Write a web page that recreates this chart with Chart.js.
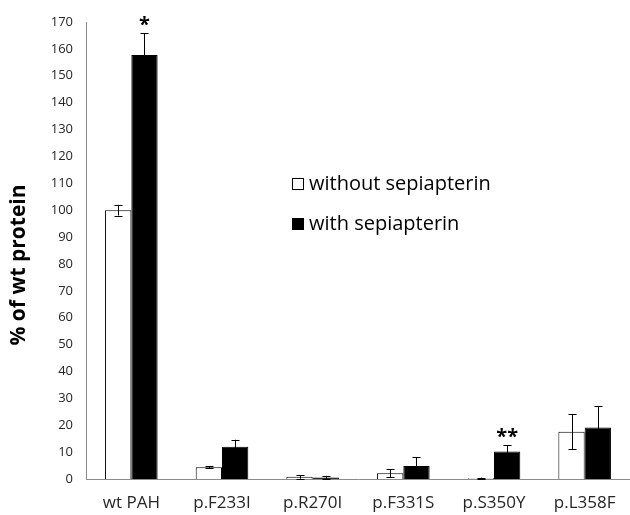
<!DOCTYPE html>
<html>
<head>
<meta charset="utf-8">
<script src="https://cdn.jsdelivr.net/npm/chart.js@4/dist/chart.umd.min.js"></script>
<style>
  html, body { margin: 0; padding: 0; background: #fff; }
  #wrap { width: 630px; height: 515px; }
</style>
</head>
<body>
<div id="wrap"><canvas id="chart" width="630" height="515"></canvas></div>
<script>
// --- data ---
const categories = ['wt PAH', 'p.F233I', 'p.R270I', 'p.F331S', 'p.S350Y', 'p.L358F'];
const withoutSep = [100, 4.4, 0.8, 2.1, 0.3, 17.6];
const withoutErr = [2, 0.3, 0.7, 1.5, 0.2, 6.5];
const withSep = [157.7, 12, 0.6, 4.8, 10.2, 19.2];
const withErr = [8.2, 2.6, 0.6, 3.3, 2.3, 8];
const withStars = ['*', '', '', '', '**', ''];
const seriesNames = ['without sepiapterin', 'with sepiapterin'];
const yTitle = '% of wt protein';

const errors = [withoutErr, withErr];
const stars = [null, withStars];

// error bars + significance marks, placed through the y scale
const errorBars = {
    id: 'errorBars',
    afterDatasetsDraw(chart) {
        const ctx = chart.ctx;
        const y = chart.scales.y;
        ctx.save();
        ctx.strokeStyle = '#000';
        ctx.lineWidth = 1;
        chart.data.datasets.forEach((ds, di) => {
            const meta = chart.getDatasetMeta(di);
            meta.data.forEach((bar, i) => {
                const v = ds.data[i];
                const e = errors[di][i];
                const x = Math.round(bar.x) + 0.5;
                const top = y.getPixelForValue(v + e);
                const bot = y.getPixelForValue(Math.max(0, v - e));
                ctx.beginPath();
                ctx.moveTo(x, top); ctx.lineTo(x, bot);
                ctx.moveTo(x - 4, Math.round(top) + 0.5); ctx.lineTo(x + 4, Math.round(top) + 0.5);
                ctx.moveTo(x - 4, Math.round(bot) + 0.5); ctx.lineTo(x + 4, Math.round(bot) + 0.5);
                ctx.stroke();
                if (stars[di] && stars[di][i]) {
                    ctx.fillStyle = '#000';
                    ctx.font = 'bold 20px "Open Sans"';
                    ctx.textAlign = 'center';
                    ctx.textBaseline = 'bottom';
                    ctx.fillText(stars[di][i], bar.x, top + 2);
                }
            });
        });
        ctx.restore();
    }
};

// legend inside the plot + rotated axis title
const extras = {
    id: 'extras',
    afterDraw(chart) {
        const ctx = chart.ctx;
        ctx.save();
        ctx.font = '20px "Open Sans"';
        ctx.textBaseline = 'middle';
        ctx.textAlign = 'left';
        chart.data.datasets.forEach((ds, di) => {
            const cy = 184 + di * 40;
            ctx.fillStyle = ds.backgroundColor;
            ctx.fillRect(292.5, cy - 5.5, 11, 11);
            ctx.strokeStyle = '#000';
            ctx.lineWidth = 1;
            ctx.strokeRect(292.5, cy - 5.5, 11, 11);
            ctx.fillStyle = '#000';
            ctx.fillText(ds.label, 309, cy);
        });

        ctx.translate(19, 265);
        ctx.rotate(-Math.PI / 2);
        ctx.textAlign = 'center';
        ctx.font = 'bold 21px "Open Sans"';
        ctx.fillText(yTitle, 0, 0);
        ctx.restore();
    }
};

new Chart(document.getElementById('chart'), {
    type: 'bar',
    data: {
        labels: categories,
        datasets: [
            { label: seriesNames[0], data: withoutSep, backgroundColor: '#ffffff', borderColor: '#000', borderWidth: 1 },
            { label: seriesNames[1], data: withSep, backgroundColor: '#000000', borderColor: '#000', borderWidth: 1 }
        ]
    },
    options: {
        responsive: false,
        animation: false,
        layout: { padding: { top: 22, right: 0, left: 0, bottom: 0 } },
        datasets: { bar: { categoryPercentage: 0.58, barPercentage: 1 } },
        plugins: { legend: { display: false }, tooltip: { enabled: false } },
        scales: {
            x: {
                grid: { display: false, drawTicks: false },
                border: { display: true, color: '#8c8c8c' },
                ticks: { color: '#262626', font: { family: 'Open Sans', size: 17 }, padding: 14 },
                afterFit: s => { s.height = 36; }
            },
            y: {
                min: 0, max: 170,
                grid: { display: false, drawTicks: false },
                border: { display: true, color: '#8c8c8c' },
                ticks: { stepSize: 10, color: '#262626', font: { family: 'Open Sans', size: 13 }, padding: 13 },
                afterFit: s => { s.width = 86; }
            }
        }
    },
    plugins: [errorBars, extras]
});
</script>
</body>
</html>
